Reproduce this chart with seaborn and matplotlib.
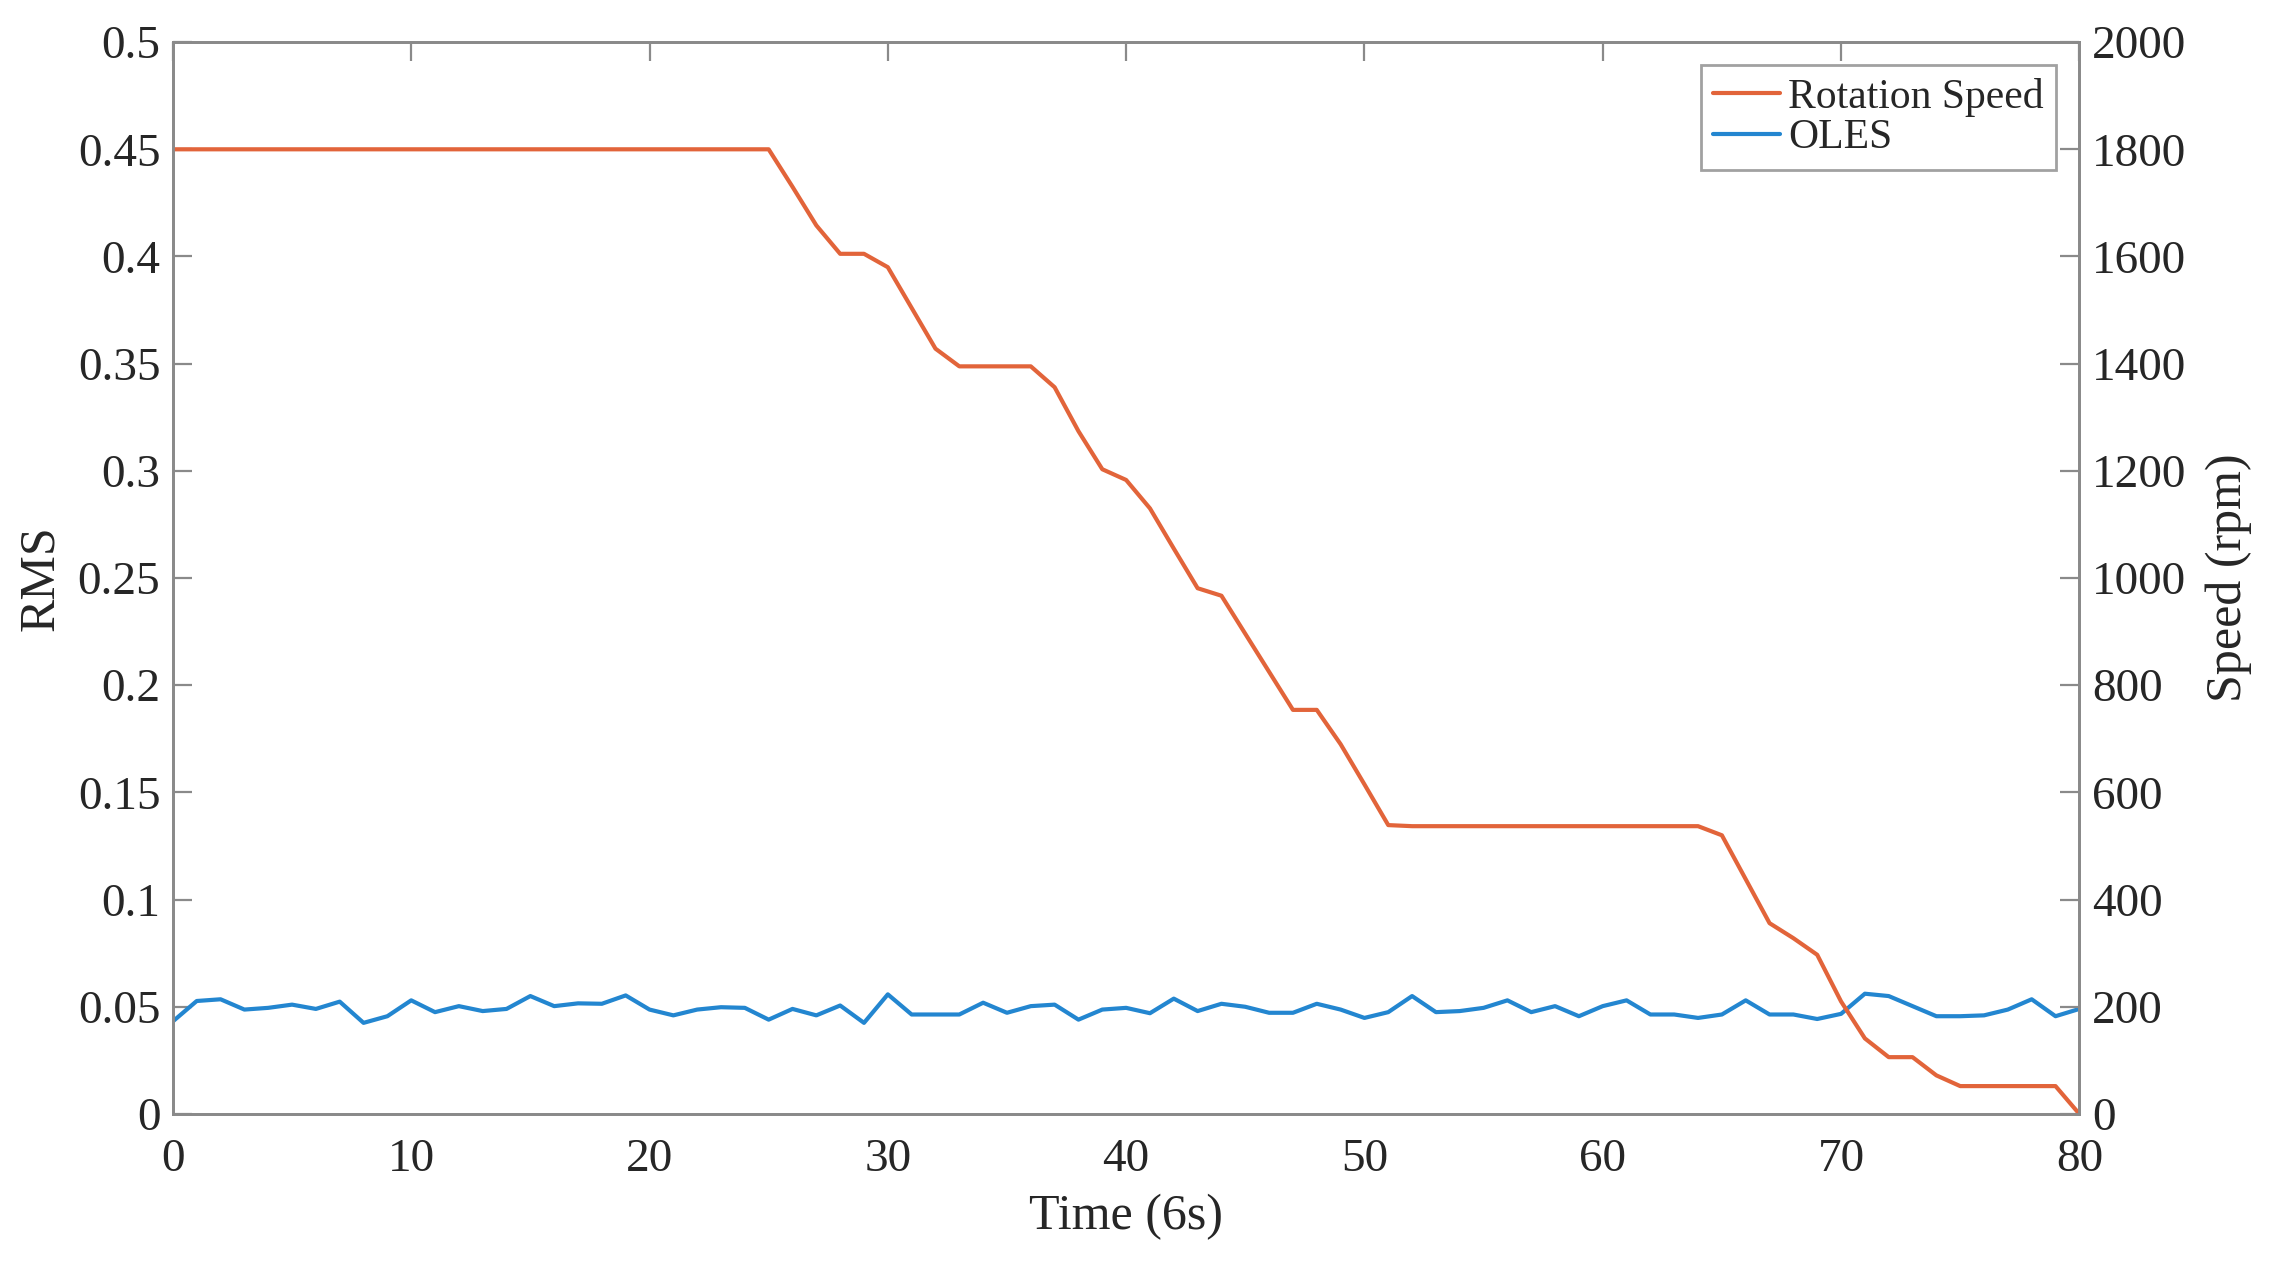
import pandas as pd
import seaborn as sns
import matplotlib.pyplot as plt
from matplotlib.ticker import FuncFormatter

time = list(range(0, 81))

speed = [1800] * 26 + [
    1730, 1658, 1605, 1605, 1580, 1504, 1428, 1395, 1395, 1395,
    1395, 1356, 1274, 1203, 1183, 1130, 1055, 981, 967, 896,
    825, 754, 754, 690, 615, 539,
] + [537] * 13 + [
    520, 438, 356, 328, 297, 210, 141, 106, 106, 72,
    52, 52, 52, 52, 52, 0,
]

oles = [
    0.0432, 0.0527, 0.0535, 0.0487, 0.0495, 0.0510, 0.0490, 0.0524, 0.0425, 0.0456,
    0.0530, 0.0475, 0.0503, 0.0480, 0.0490, 0.0550, 0.0503, 0.0516, 0.0514, 0.0553,
    0.0487, 0.0460, 0.0487, 0.0498, 0.0495, 0.0440, 0.0490, 0.0460, 0.0506, 0.0425,
    0.0558, 0.0464, 0.0464, 0.0464, 0.0519, 0.0472, 0.0503, 0.0510, 0.0440, 0.0487,
    0.0495, 0.0470, 0.0538, 0.0480, 0.0514, 0.0500, 0.0472, 0.0472, 0.0514, 0.0487,
    0.0448, 0.0475, 0.0550, 0.0475, 0.0480, 0.0495, 0.0530, 0.0475, 0.0503, 0.0456,
    0.0503, 0.0530, 0.0464, 0.0464, 0.0448, 0.0464, 0.0530, 0.0464, 0.0464, 0.0443,
    0.0467, 0.0561, 0.0550, 0.0503, 0.0456, 0.0456, 0.0460, 0.0487, 0.0535, 0.0456,
    0.0490,
]

rms_ticks = [0, 0.05, 0.1, 0.15, 0.2, 0.25, 0.3, 0.35, 0.4, 0.45, 0.5]
speed_ticks = [0, 200, 400, 600, 800, 1000, 1200, 1400, 1600, 1800, 2000]
time_ticks = [0, 10, 20, 30, 40, 50, 60, 70, 80]

df = pd.DataFrame({"Time": time, "Speed": speed, "OLES": oles})

sns.set_style("white")
plt.rcParams["font.family"] = ["Liberation Serif", "DejaVu Serif"]

orange = "#E2643A"
blue = "#2386D0"
spine_col = "#8a8a8a"
text_col = "#262626"

fig = plt.figure(figsize=(22.75, 12.61), dpi=100)
ax = fig.add_axes([0.076, 0.1166, 0.838, 0.85])
ax2 = ax.twinx()

sns.lineplot(data=df, x="Time", y="OLES", ax=ax, color=blue, linewidth=3.0,
             label="OLES", legend=False)
sns.lineplot(data=df, x="Time", y="Speed", ax=ax2, color=orange, linewidth=3.0,
             label="Rotation Speed", legend=False)

ax.set_xlim(0, 80)
ax.set_ylim(0, 0.5)
ax2.set_ylim(0, 2000)
ax.set_xticks(time_ticks)
ax.set_yticks(rms_ticks)
ax2.set_yticks(speed_ticks)
ax.yaxis.set_major_formatter(FuncFormatter(lambda v, p: "%g" % v))

ax.set_xlabel("Time (6s)", fontsize=36, color=text_col, labelpad=9)
ax.set_ylabel("RMS", fontsize=36, color=text_col, labelpad=10)
ax2.set_ylabel("Speed (rpm)", fontsize=36, color=text_col, labelpad=14)

for a in (ax, ax2):
    for s in a.spines.values():
        s.set_color(spine_col)
        s.set_linewidth(2.0)
ax.tick_params(axis="x", direction="in", length=14, width=1.6, colors=spine_col,
               labelcolor=text_col, labelsize=34, top=True, pad=18)
ax.tick_params(axis="y", direction="in", length=14, width=1.6, colors=spine_col,
               labelcolor=text_col, labelsize=34, right=False, pad=9)
ax2.tick_params(axis="y", direction="in", length=14, width=1.6, colors=spine_col,
                labelcolor=text_col, labelsize=34, pad=9)

h1, l1 = ax.get_legend_handles_labels()
h2, l2 = ax2.get_legend_handles_labels()
leg = ax2.legend(h2 + h1, l2 + l1, loc="upper right", fontsize=30,
                 frameon=True, fancybox=False, handlelength=1.6,
                 handletextpad=0.2, borderpad=0.3, labelspacing=0.05,
                 borderaxespad=0.55)
leg.get_frame().set_edgecolor(spine_col)
leg.get_frame().set_linewidth(2.0)

fig.savefig("out.png", dpi=100)
